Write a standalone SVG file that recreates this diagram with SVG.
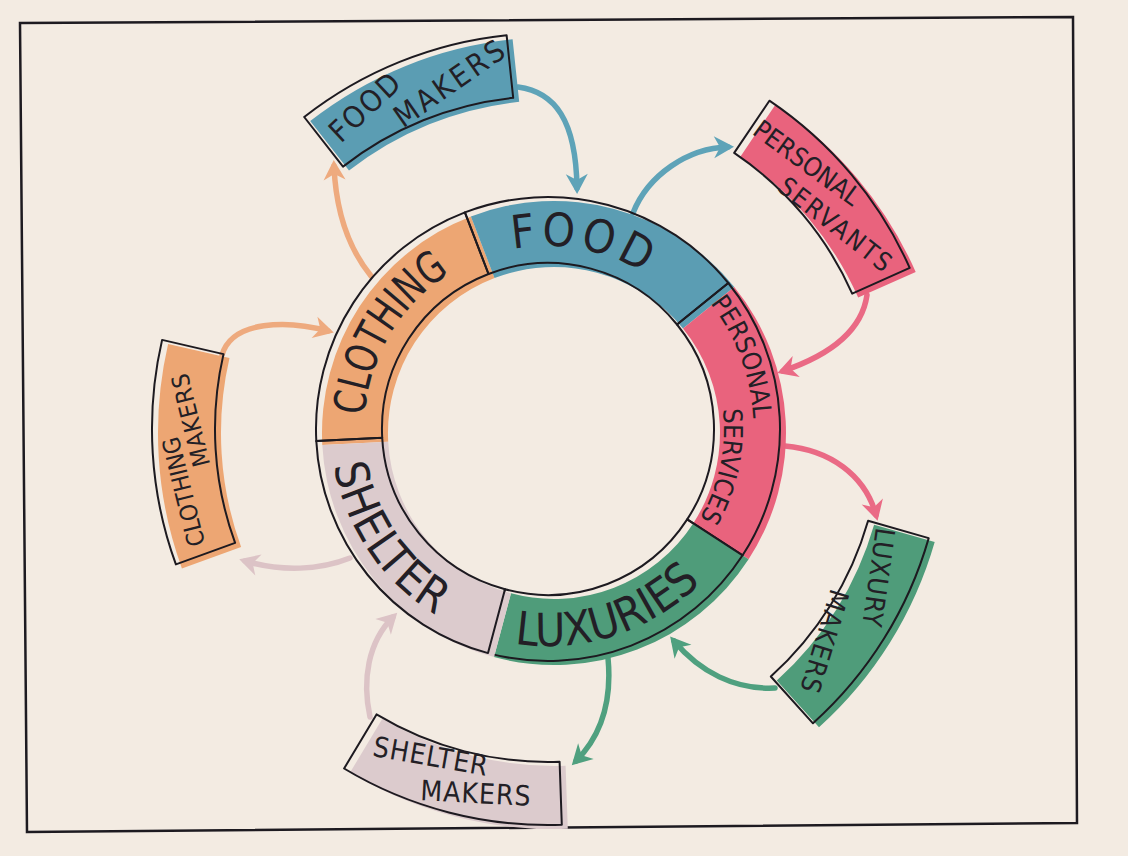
<svg xmlns="http://www.w3.org/2000/svg" width="1128" height="856" viewBox="0 0 1128 856">
<style>
.ol{fill:none;stroke:#1d1a20;stroke-width:2;stroke-linejoin:round}
.t{font-family:"DejaVu Sans Condensed","Liberation Sans Narrow","Liberation Sans",sans-serif;fill:#231f26}
.conn path{fill:none;stroke-width:5.5;stroke-linecap:round}
.sh{transform:translate(6px,4px)}
</style>
<defs>
<marker id="mo" markerUnits="userSpaceOnUse" viewBox="-20 -14 30 28" markerWidth="30" markerHeight="28" refX="0" refY="0" orient="auto" overflow="visible"><path d="M6,0 L-14,-11 L-8,0 L-14,11 Z" fill="#eeaa7e"/></marker>
<marker id="mb" markerUnits="userSpaceOnUse" viewBox="-20 -14 30 28" markerWidth="30" markerHeight="28" refX="0" refY="0" orient="auto" overflow="visible"><path d="M6,0 L-14,-11 L-8,0 L-14,11 Z" fill="#5ea3b8"/></marker>
<marker id="mp" markerUnits="userSpaceOnUse" viewBox="-20 -14 30 28" markerWidth="30" markerHeight="28" refX="0" refY="0" orient="auto" overflow="visible"><path d="M6,0 L-14,-11 L-8,0 L-14,11 Z" fill="#ea6a85"/></marker>
<marker id="mg" markerUnits="userSpaceOnUse" viewBox="-20 -14 30 28" markerWidth="30" markerHeight="28" refX="0" refY="0" orient="auto" overflow="visible"><path d="M6,0 L-14,-11 L-8,0 L-14,11 Z" fill="#4fa07f"/></marker>
<marker id="mm" markerUnits="userSpaceOnUse" viewBox="-20 -14 30 28" markerWidth="30" markerHeight="28" refX="0" refY="0" orient="auto" overflow="visible"><path d="M6,0 L-14,-11 L-8,0 L-14,11 Z" fill="#dcc3c6"/></marker>
<path id="pFood" d="M459.3,268.9 A183,183 0 0 1 690.2,313.8"/>
<path id="pCloth" d="M366.3,457.8 A184,184 0 0 1 488.1,255.0"/>
<path id="pPers" d="M649.6,250.9 A205,205 0 0 1 741.6,497.9"/>
<path id="pServ" d="M703.4,346.5 A176,176 0 0 1 656.4,567.7"/>
<path id="pLux" d="M466.7,630.2 A217,217 0 0 0 732.0,544.0"/>
<path id="pShel" d="M332.0,407.8 A217,217 0 0 0 489.6,638.0"/>
</defs>
<rect width="1128" height="856" fill="#f3ebe2"/>
<polygon points="20,23 1073,17 1077,823 27,832" fill="none" stroke="#1d1a20" stroke-width="2.5"/>

<g id="connectors" class="conn">
<path d="M371,276 C350,250 336,215 334,166" stroke="#eeaa7e" marker-end="url(#mo)"/>
<path d="M518,87 C555,92 576,120 577,188" stroke="#5ea3b8" marker-end="url(#mb)"/>
<path d="M633,213 C648,175 688,148 728,147" stroke="#5ea3b8" marker-end="url(#mb)"/>
<path d="M867,295 C862,330 830,355 783,371" stroke="#ea6a85" marker-end="url(#mp)"/>
<path d="M785,446 C830,450 865,475 876,515" stroke="#ea6a85" marker-end="url(#mp)"/>
<path d="M775,688 C735,690 700,672 674,641" stroke="#4fa07f" marker-end="url(#mg)"/>
<path d="M608,658 C612,700 602,735 576,761" stroke="#4fa07f" marker-end="url(#mg)"/>
<path d="M370,717 C362,680 368,642 393,617" stroke="#dcc3c6" marker-end="url(#mm)"/>
<path d="M350,558 C320,570 282,572 245,561" stroke="#dcc3c6" marker-end="url(#mm)"/>
<path d="M222,355 C232,320 288,320 328,331" stroke="#eeaa7e" marker-end="url(#mo)"/>
</g>

<g id="clothing">
<path class="sh" d="M316.3,441.1 A232,232 0 0 1 464.9,212.4 L488.5,274.0 A166,166 0 0 0 382.2,437.7 Z" fill="#eda673"/>
<path class="ol" d="M316.3,441.1 A232,232 0 0 1 464.9,212.4 L488.5,274.0 A166,166 0 0 0 382.2,437.7 Z"/>
<text class="t" font-size="44"><textPath href="#pCloth" startOffset="50%" text-anchor="middle" textLength="172" lengthAdjust="spacingAndGlyphs">CLOTHING</textPath></text>
</g>
<g id="food">
<path class="sh" d="M464.9,212.4 A232,232 0 0 1 728.3,283.0 L677.0,324.5 A166,166 0 0 0 488.5,274.0 Z" fill="#5b9db3"/>
<path class="ol" d="M464.9,212.4 A232,232 0 0 1 728.3,283.0 L677.0,324.5 A166,166 0 0 0 488.5,274.0 Z"/>
<text class="t" font-size="46" letter-spacing="5"><textPath href="#pFood" startOffset="50%" text-anchor="middle">FOOD</textPath></text>
</g>
<g id="personal-services">
<path class="sh" d="M728.3,283.0 A232,232 0 0 1 742.6,555.3 L687.2,519.4 A166,166 0 0 0 677.0,324.5 Z" fill="#e9637d"/>
<path class="ol" d="M728.3,283.0 A232,232 0 0 1 742.6,555.3 L687.2,519.4 A166,166 0 0 0 677.0,324.5 Z"/>
<text class="t" font-size="26"><textPath href="#pPers" startOffset="50%" text-anchor="middle">PERSONAL</textPath></text>
<text class="t" font-size="26"><textPath href="#pServ" startOffset="50%" text-anchor="middle">SERVICES</textPath></text>
</g>
<g id="luxuries">
<path class="sh" d="M742.6,555.3 A232,232 0 0 1 488.0,653.1 L505.0,589.3 A166,166 0 0 0 687.2,519.4 Z" fill="#4f9c7a"/>
<path class="ol" d="M742.6,555.3 A232,232 0 0 1 488.0,653.1 L505.0,589.3 A166,166 0 0 0 687.2,519.4 Z"/>
<text class="t" font-size="46"><textPath href="#pLux" startOffset="50%" text-anchor="middle">LUXURIES</textPath></text>
</g>
<g id="shelter">
<path class="sh" d="M488.0,653.1 A232,232 0 0 1 316.3,441.1 L382.2,437.7 A166,166 0 0 0 505.0,589.3 Z" fill="#dccbcd"/>
<path class="ol" d="M488.0,653.1 A232,232 0 0 1 316.3,441.1 L382.2,437.7 A166,166 0 0 0 505.0,589.3 Z"/>
<text class="t" font-size="46" letter-spacing="1"><textPath href="#pShel" startOffset="50%" text-anchor="middle">SHELTER</textPath></text>
</g>

<g id="food-makers">
<path class="sh" d="M304.2,117.0 A396,396 0 0 1 506.6,35.2 L513.2,97.8 A333,333 0 0 0 343.0,166.6 Z" fill="#5b9db3"/>
<path class="ol" d="M304.2,117.0 A396,396 0 0 1 506.6,35.2 L513.2,97.8 A333,333 0 0 0 343.0,166.6 Z"/>
<text class="t" font-size="30" letter-spacing="2" text-anchor="middle" transform="translate(365,106) rotate(-43)" y="11">FOOD</text>
<text class="t" font-size="30" letter-spacing="3" text-anchor="middle" transform="translate(450,82) rotate(-35)" y="11">MAKERS</text>
</g>
<g id="personal-servants">
<path class="sh" d="M769.4,100.7 A396,396 0 0 1 909.7,267.9 L852.2,293.6 A333,333 0 0 0 734.2,152.9 Z" fill="#e9637d"/>
<path class="ol" d="M769.4,100.7 A396,396 0 0 1 909.7,267.9 L852.2,293.6 A333,333 0 0 0 734.2,152.9 Z"/>
<text class="t" font-size="26" text-anchor="middle" transform="translate(807,163) rotate(36)" y="9">PERSONAL</text>
<text class="t" font-size="26" letter-spacing="2" text-anchor="middle" transform="translate(836,225) rotate(38)" y="9">SERVANTS</text>
</g>
<g id="luxury-makers">
<path class="sh" d="M928.7,538.1 A396,396 0 0 1 813.0,723.3 L770.8,676.5 A333,333 0 0 0 868.1,520.8 Z" fill="#4f9c7a"/>
<path class="ol" d="M928.7,538.1 A396,396 0 0 1 813.0,723.3 L770.8,676.5 A333,333 0 0 0 868.1,520.8 Z"/>
<text class="t" font-size="27" letter-spacing="1" text-anchor="middle" transform="translate(879,578) rotate(98)" y="10">LUXURY</text>
<text class="t" font-size="27" letter-spacing="1" text-anchor="middle" transform="translate(825,642) rotate(107)" y="10">MAKERS</text>
</g>
<g id="shelter-makers">
<path class="sh" d="M561.8,824.8 A396,396 0 0 1 344.1,768.5 L376.5,714.4 A333,333 0 0 0 559.6,761.8 Z" fill="#dccbcd"/>
<path class="ol" d="M561.8,824.8 A396,396 0 0 1 344.1,768.5 L376.5,714.4 A333,333 0 0 0 559.6,761.8 Z"/>
<text class="t" font-size="28" letter-spacing="1" text-anchor="middle" transform="translate(431,756) rotate(10)" y="10">SHELTER</text>
<text class="t" font-size="28" letter-spacing="1" text-anchor="middle" transform="translate(476,793) rotate(3)" y="10">MAKERS</text>
</g>
<g id="clothing-makers">
<path class="sh" d="M175.9,564.4 A396,396 0 0 1 162.1,339.9 L223.5,354.1 A333,333 0 0 0 235.1,542.9 Z" fill="#eda673"/>
<path class="ol" d="M175.9,564.4 A396,396 0 0 1 162.1,339.9 L223.5,354.1 A333,333 0 0 0 235.1,542.9 Z"/>
<text class="t" font-size="24" text-anchor="middle" transform="translate(183,492) rotate(-104)" y="9">CLOTHING</text>
<text class="t" font-size="24" letter-spacing="1" text-anchor="middle" transform="translate(190,420) rotate(-104)" y="9">MAKERS</text>
</g>
</svg>
